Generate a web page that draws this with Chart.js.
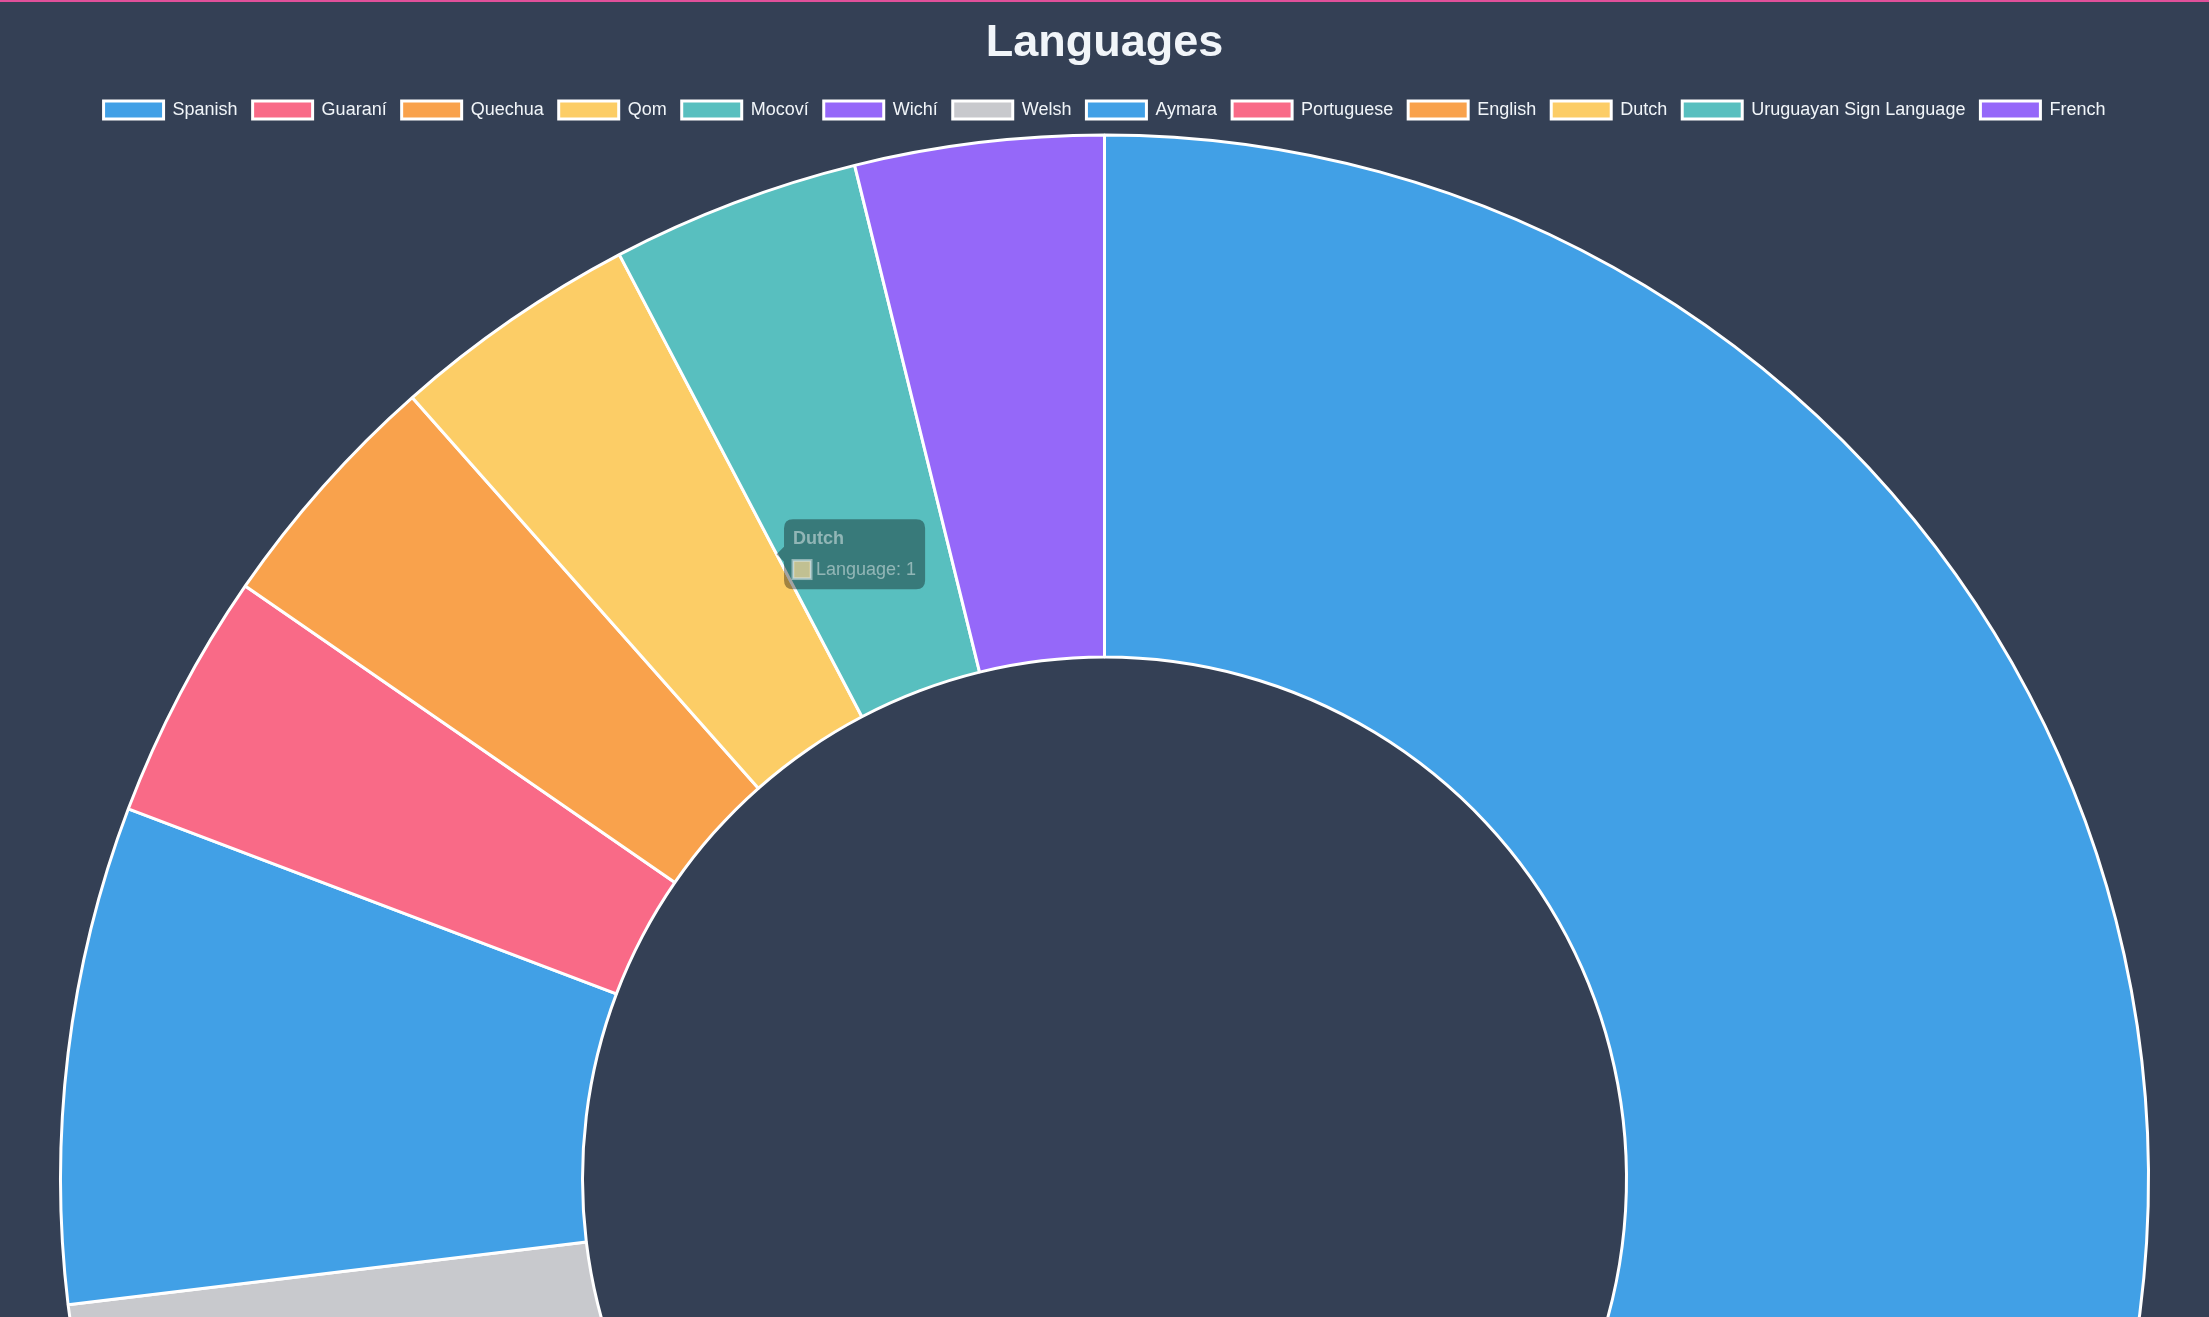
<!DOCTYPE html>
<html>
<head>
<meta charset="utf-8">
<script src="https://cdn.jsdelivr.net/npm/chart.js@4.4.1/dist/chart.umd.min.js"></script>
<style>
  html, body { margin: 0; padding: 0; background: #344055; overflow: hidden; }
  #topline { position: absolute; left: 0; top: 0; width: 100%; height: 2px; background: #e0509a; z-index: 5; }
  #wrap { position: absolute; left: 0; top: 2px; width: 2209px; height: 2227px; }
</style>
</head>
<body>
<div id="topline"></div>
<div id="wrap"><canvas id="c"></canvas></div>
<script>
const titleText = 'Languages';
const datasetLabel = 'Language';
const categories = ['Spanish', 'Guaraní', 'Quechua', 'Qom', 'Mocoví', 'Wichí', 'Welsh', 'Aymara', 'Portuguese', 'English', 'Dutch', 'Uruguayan Sign Language', 'French'];
const values = [9, 3, 3, 1, 1, 1, 1, 2, 1, 1, 1, 1, 1];
const palette = ['#41a0e6', '#f96a87', '#f9a24c', '#fccd66', '#58bfbf', '#9568f9', '#c8c9cd'];
const tooltipIndex = categories.indexOf('Dutch');

const S = 1.5;
const textColor = '#f1f5f9';
const fontFamily = 'Liberation Sans, Arial, sans-serif';

Chart.Tooltip.positioners.frozen = function (items) {
  if (!items.length) return false;
  const el = items[0].element.tooltipPosition(true);
  const ref = this.chart.getDatasetMeta(0).data[0].tooltipPosition(true);
  const t = 0.1;
  return { x: el.x + (ref.x - el.x) * t, y: el.y + (ref.y - el.y) * t * 0.7 };
};

const chart = new Chart(document.getElementById('c'), {
  type: 'doughnut',
  data: {
    labels: categories,
    datasets: [{
      label: datasetLabel,
      data: values,
      backgroundColor: values.map((v, i) => palette[i % palette.length]),
      borderColor: '#ffffff',
      borderWidth: 2 * S,
      hoverOffset: 4 * S
    }]
  },
  options: {
    responsive: true,
    maintainAspectRatio: false,
    animation: false,
    events: [],
    layout: { padding: { left: 59, right: 59 } },
    plugins: {
      title: {
        display: true,
        text: titleText,
        color: textColor,
        font: { family: fontFamily, size: 45, weight: 'bold' },
        padding: { top: 10 * S, bottom: 10 * S }
      },
      legend: {
        position: 'top',
        labels: {
          color: textColor,
          boxWidth: 40 * S,
          padding: 10 * S,
          font: { family: fontFamily, size: 12 * S }
        }
      },
      tooltip: {
        position: 'frozen',
        padding: 6 * S,
        caretPadding: 2 * S,
        caretSize: 5 * S,
        cornerRadius: 6 * S,
        titleMarginBottom: 6 * S,
        bodySpacing: 2 * S,
        boxPadding: 3,
        titleFont: { family: fontFamily, size: 12 * S, weight: 'bold' },
        bodyFont: { family: fontFamily, size: 12 * S }
      }
    }
  }
});

chart.tooltip.setActiveElements([{ datasetIndex: 0, index: tooltipIndex }], { x: 0, y: 0 });
chart.draw();
chart.tooltip.opacity = 0.45;
chart.draw();
</script>
</body>
</html>
